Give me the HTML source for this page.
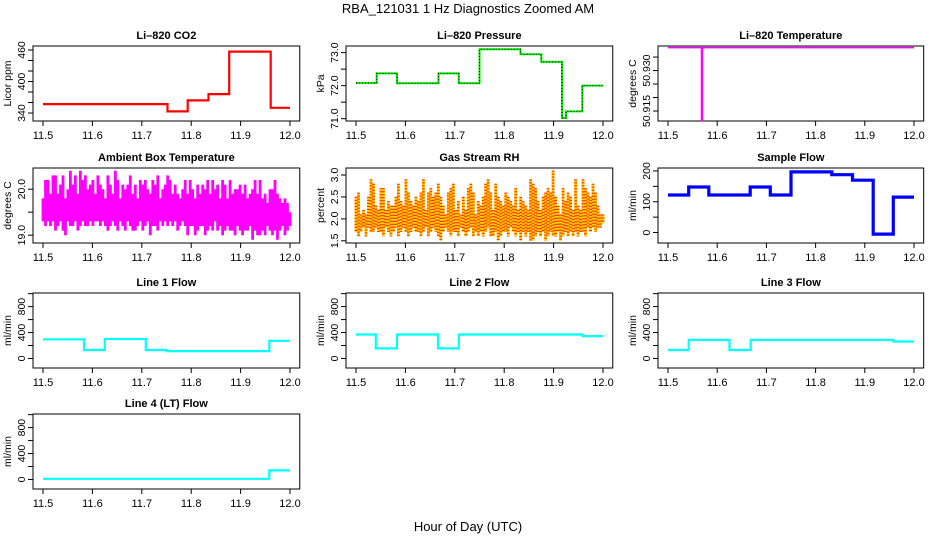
<!DOCTYPE html>
<html><head><meta charset="utf-8">
<style>
html,body{margin:0;padding:0;background:#fff;}
svg{display:block;font-family:"Liberation Sans",sans-serif;}
</style></head>
<body>
<svg id="c" width="936" height="540" xmlns="http://www.w3.org/2000/svg">
<rect width="936" height="540" fill="#fff"/>
<text x="468" y="13" text-anchor="middle" font-size="13">RBA_121031  1 Hz Diagnostics Zoomed AM</text>
<text x="468" y="531" text-anchor="middle" font-size="13">Hour of Day (UTC)</text>
</svg>
<script>
const xTicks = [11.5, 11.6, 11.7, 11.8, 11.9, 12.0];
const xTickLabels = ["11.5", "11.6", "11.7", "11.8", "11.9", "12.0"];

const co2T = [11.5, 11.752, 11.793, 11.835, 11.877, 11.961];
const co2V = [357, 343, 364, 376, 457, 350];
const presT = [11.5, 11.542, 11.583, 11.667, 11.708, 11.75, 11.833, 11.875, 11.917, 11.925, 11.958];
const presV = [72.08, 72.37, 72.07, 72.37, 72.07, 73.1, 72.95, 72.72, 71.02, 71.22, 72.0];
const tempT = [11.5, 11.568, 11.570];
const tempV = [50.9385, 50.9115, 50.9385];
const sfT = [11.5, 11.542, 11.583, 11.667, 11.708, 11.75, 11.833, 11.875, 11.917, 11.958];
const sfV = [122, 148, 122, 148, 122, 197, 188, 170, -5, 115];
const l1T = [11.5, 11.583, 11.625, 11.708, 11.75, 11.958];
const l1V = [296, 130, 300, 130, 114, 272];
const l2T = [11.5, 11.54, 11.583, 11.666, 11.708, 11.958];
const l2V = [370, 156, 370, 156, 370, 345];
const l3T = [11.5, 11.542, 11.625, 11.668, 11.958];
const l3V = [130, 286, 130, 286, 262];
const l4T = [11.5, 11.958];
const l4V = [10, 140];

const ambHi = [19.8,20.2,20.2,19.9,20.3,20.3,19.9,20.1,20.3,19.8, 20.0,20.4,20.1,20.3,19.9,20.4,20.2,20.3,20.0,20.1, 20.2,19.9,20.3,20.1,20.0,19.8,20.3,20.1,19.9,20.4, 20.2,19.8,20.1,20.0,20.1,20.3,19.9,20.1,19.8,20.2, 20.1,20.2,20.0,19.9,20.2,20.1,20.3,19.8,20.0,20.1, 20.3,20.2,19.9,20.1,19.9,19.8,20.0,20.2,19.9,20.2, 20.0,19.8,20.1,19.9,20.1,20.0,20.2,19.9,20.2,20.0, 20.1,19.8,20.2,20.1,19.8,20.2,19.9,20.0,20.0,20.1, 19.9,20.1,19.8,19.9,20.0,20.2,19.9,20.2,19.8,19.9, 19.7,20.0,20.0,20.2,19.9,19.8,19.7,19.8,19.7,19.5];
const ambLo = [19.3,19.2,19.3,19.2,19.3,19.1,19.2,19.3,19.1,19.0, 19.3,19.2,19.2,19.3,19.1,19.2,19.3,19.2,19.2,19.3, 19.2,19.3,19.3,19.2,19.3,19.2,19.1,19.2,19.3,19.2, 19.1,19.3,19.2,19.1,19.3,19.2,19.1,19.1,19.2,19.3, 19.1,19.2,19.3,19.0,19.2,19.2,19.1,19.3,19.2,19.3, 19.2,19.3,19.2,19.3,19.1,19.2,19.3,19.2,19.0,19.2, 19.2,19.0,19.1,19.2,19.2,19.0,19.1,19.2,19.1,19.3, 19.1,19.2,19.0,19.1,19.2,19.1,19.1,19.0,19.2,19.1, 19.0,19.1,19.1,19.2,18.9,19.1,19.0,19.0,19.1,19.0, 19.2,19.1,19.0,19.1,18.9,19.1,19.2,19.0,19.1,19.2];
const rhHi = [2.5,2.6,2.1,2.2,2.1,2.5,2.9,2.8,2.3,2.2, 2.7,2.7,2.2,2.4,2.3,2.3,2.5,2.8,2.4,2.3, 2.9,2.6,2.4,2.3,2.5,2.4,2.6,2.9,2.2,2.6, 2.7,2.5,2.6,2.8,2.5,2.3,2.1,2.6,2.7,2.8, 2.2,2.4,2.1,2.5,2.2,2.7,2.8,2.6,2.1,2.4, 2.3,2.5,2.8,2.9,2.6,2.2,2.8,2.5,2.4,2.3, 2.6,2.5,2.4,2.3,2.7,2.2,2.5,2.4,2.3,2.2, 2.9,2.8,2.7,2.4,2.2,2.5,2.6,2.7,2.6,3.1, 2.5,2.3,2.1,2.7,2.4,2.6,2.5,2.2,2.9,2.3, 2.2,2.9,2.7,2.6,2.5,2.8,2.6,2.3,2.1,2.1];
const rhLo = [1.7,1.6,1.7,1.8,1.6,1.8,1.7,1.7,1.8,1.7, 1.7,1.6,1.8,1.7,1.6,1.7,1.8,1.6,1.7,1.8, 1.7,1.6,1.7,1.8,1.7,1.7,1.6,1.7,1.8,1.6, 1.7,1.8,1.7,1.6,1.5,1.7,1.8,1.7,1.6,1.7, 1.7,1.6,1.8,1.7,1.6,1.7,1.8,1.6,1.7,1.6, 1.7,1.6,1.7,1.8,1.6,1.6,1.7,1.5,1.6,1.7, 1.7,1.6,1.8,1.7,1.6,1.7,1.5,1.7,1.6,1.7, 1.5,1.5,1.6,1.7,1.6,1.7,1.5,1.6,1.7,1.6, 1.6,1.7,1.5,1.6,1.7,1.6,1.7,1.6,1.7,1.6, 1.7,1.7,1.6,1.8,1.7,1.8,1.7,1.8,1.8,1.9];

const NS = "http://www.w3.org/2000/svg";
const svg = document.getElementById('c');
function mk(tag, attrs, parent) {
  const e = document.createElementNS(NS, tag);
  for (const k in attrs) e.setAttribute(k, attrs[k]);
  (parent || svg).appendChild(e);
  return e;
}
const cols = [{bx:33, x0:43, x1:290}, {bx:346, x0:356, x1:603}, {bx:658, x0:668, x1:914}];
const rows = [46, 168, 293, 414];
const BH = 75;

function panel(key, col, row, title, ylab, ylim, yTicks, yLabels) {
  const c = cols[col], top = rows[row], bw = (c.x1 - c.x0) / 0.5 * 0.54;
  const g = mk('g', {});
  
  
  const sx = v => c.x0 + (v - 11.5) / 0.5 * (c.x1 - c.x0);
  const sy = v => top + BH - (v - ylim[0]) / (ylim[1] - ylim[0]) * BH;
  const t = mk('text', {x: c.bx + bw / 2, y: top - 7, 'text-anchor': 'middle', 'font-size': 11, 'font-weight': 'bold'}, g);
  t.textContent = title;
  
  
  const bx = mk('rect', {x: c.bx, y: top, width: bw, height: BH, fill: 'none', stroke: '#000', 'stroke-width': 1}, g);
  
  
  const xa = mk('g', {}, g);
  
  
  mk('line', {x1: sx(xTicks[0]), x2: sx(xTicks[xTicks.length - 1]), y1: top + BH, y2: top + BH, stroke: '#000'}, xa);
  xTicks.forEach((v, i) => {
    mk('line', {x1: sx(v), x2: sx(v), y1: top + BH, y2: top + BH + 5, stroke: '#000'}, xa);
    const tl = mk('text', {x: sx(v), y: top + BH + 18, 'text-anchor': 'middle', 'font-size': 11}, xa);
    tl.textContent = xTickLabels[i];
  });
  const ya = mk('g', {}, g);
  
  
  yTicks.forEach((v, i) => {
    mk('line', {x1: c.bx, x2: c.bx - 5, y1: sy(v), y2: sy(v), stroke: '#000'}, ya);
    if (yLabels[i]) {
      const tl = mk('text', {x: 0, y: 0, 'text-anchor': 'middle', 'font-size': 10.5, transform: `translate(${c.bx - 8},${sy(v)}) rotate(-90)`}, ya);
      tl.textContent = yLabels[i];
    }
  });
  const yl = mk('text', {x: 0, y: 0, 'text-anchor': 'middle', 'font-size': 10.5, transform: `translate(${c.bx - 22},${top + BH / 2}) rotate(-90)`}, g);
  yl.textContent = ylab;
  
  
  return {g, sx, sy};
}

function stepLine(p, key, T, V, color, w) {
  let d = '';
  for (let i = 0; i < T.length; i++) {
    const xa = p.sx(T[i]), xb = p.sx(i + 1 < T.length ? T[i + 1] : 12.0), y = p.sy(V[i]);
    d += (i === 0 ? 'M' : 'L') + xa.toFixed(1) + ',' + y.toFixed(1) + 'L' + xb.toFixed(1) + ',' + y.toFixed(1);
  }
  const e = mk('path', {d, fill: 'none', stroke: color, 'stroke-width': w}, p.g);
  
  
}
function bandBars(p, key, hi, lo, color, w, dash) {
  const n = hi.length;
  let d = '';
  for (let i = 0; i < n; i++) {
    const x = p.sx(11.5 + i / (n - 1) * 0.5);
    d += 'M' + x.toFixed(1) + ',' + p.sy(hi[i]).toFixed(1) + 'V' + p.sy(lo[i]).toFixed(1);
  }
  const a = {d, fill: 'none', stroke: color, 'stroke-width': w};
  if (dash) a['stroke-dasharray'] = dash;
  const e = mk('path', a, p.g);
  
  
}

let p;
p = panel('co2', 0, 0, 'Li\u2013820 CO2', 'Licor ppm', [324.8, 467.6], [340, 360, 380, 400, 420, 440, 460], ['340', '', '', '400', '', '', '460']);
stepLine(p, 'co2', co2T, co2V, '#ff0000', 2.2);
p = panel('pressure', 1, 0, 'Li\u2013820 Pressure', 'kPa', [70.93, 73.2], [71, 71.5, 72, 72.5, 73], ['71.0', '', '72.0', '', '73.0']);
stepLine(p, 'pressure', presT, presV, '#00ee00', 2);
stepLine(p, 'pressure-dots', presT, presV, '#000', 1);
p.g.lastChild.setAttribute('stroke-dasharray', '1,2');
p = panel('li820-temp', 2, 0, 'Li\u2013820 Temperature', 'degrees C', [50.9113, 50.9391], [50.935, 50.930, 50.925, 50.920, 50.915], ['', '50.930', '', '', '50.915']);
stepLine(p, 'li820-temp', tempT, tempV, '#ff00ff', 1.5);
p = panel('ambient-temp', 0, 1, 'Ambient Box Temperature', 'degrees C', [18.83, 20.46], [19.0, 19.5, 20.0], ['19.0', '', '20.0']);
bandBars(p, 'ambient-temp', ambHi, ambLo, '#ff00ff', 2.8);
p = panel('rh', 1, 1, 'Gas Stream RH', 'percent', [1.45, 3.16], [1.5, 2.0, 2.5, 3.0], ['1.5', '2.0', '2.5', '3.0']);
bandBars(p, 'rh', rhHi, rhLo, '#ffd000', 2.8);
bandBars(p, 'rh-dots', rhHi, rhLo, '#ff2000', 2.8, '1,2');
p = panel('sample-flow', 2, 1, 'Sample Flow', 'ml/min', [-34, 209.6], [0, 50, 100, 150, 200], ['0', '', '100', '', '200']);
stepLine(p, 'sample-flow', sfT, sfV, '#0000ff', 3.2);
const flowTicks = [0, 200, 400, 600, 800, 1000], flowLabels = ['0', '', '400', '', '800', ''];
p = panel('line1-flow', 0, 2, 'Line 1 Flow', 'ml/min', [-147, 1010], flowTicks, flowLabels);
stepLine(p, 'line1-flow', l1T, l1V, '#00ffff', 2.2);
p = panel('line2-flow', 1, 2, 'Line 2 Flow', 'ml/min', [-147, 1010], flowTicks, flowLabels);
stepLine(p, 'line2-flow', l2T, l2V, '#00ffff', 2.2);
p = panel('line3-flow', 2, 2, 'Line 3 Flow', 'ml/min', [-147, 1010], flowTicks, flowLabels);
stepLine(p, 'line3-flow', l3T, l3V, '#00ffff', 2.2);
p = panel('line4-flow', 0, 3, 'Line 4 (LT) Flow', 'ml/min', [-147, 1010], flowTicks, flowLabels);
stepLine(p, 'line4-flow', l4T, l4V, '#00ffff', 2.2);
</script>
</body></html>
